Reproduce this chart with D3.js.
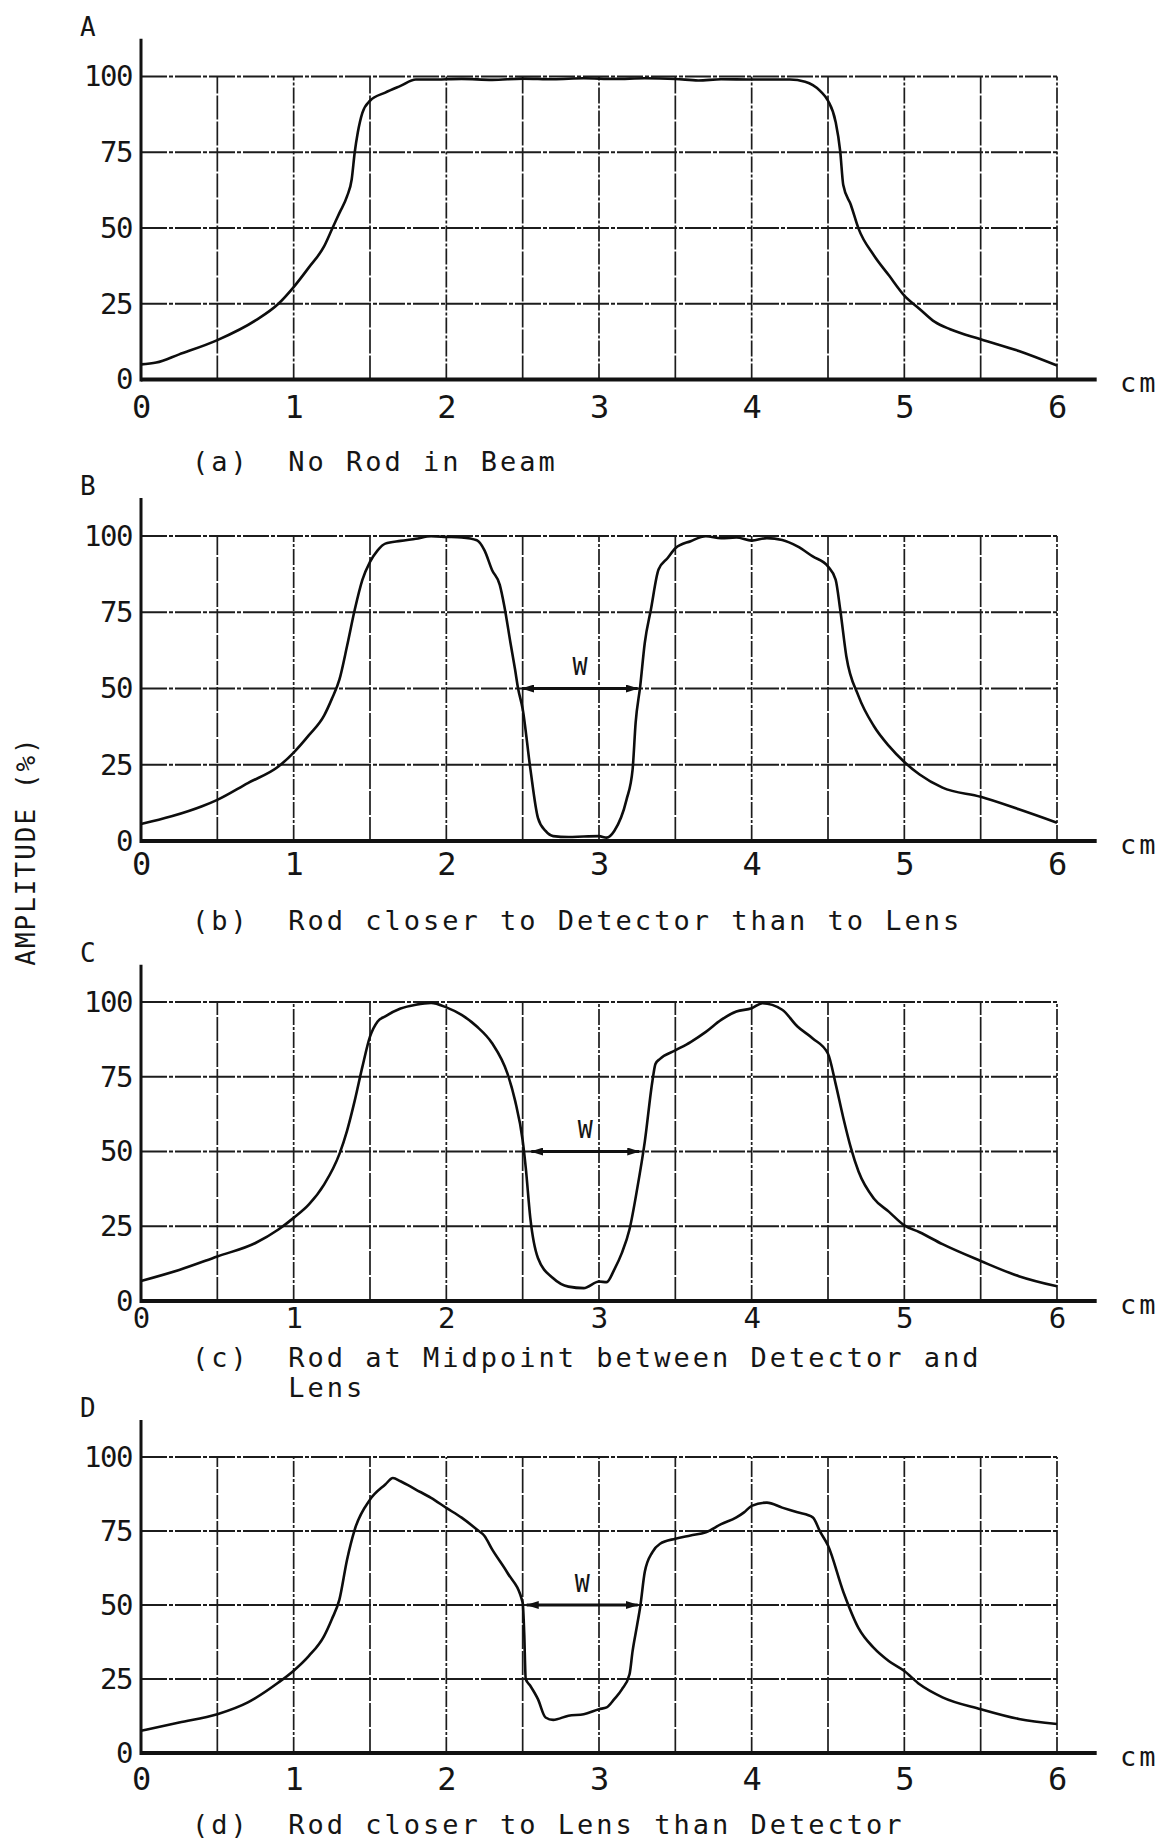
<!DOCTYPE html>
<html>
<head>
<meta charset="utf-8">
<script src="https://cdn.jsdelivr.net/npm/d3@7"></script>
<style>
  body { margin: 0; background: #fff; }
  text { font-family: "DejaVu Sans Mono", monospace; fill: #151515; }
</style>
</head>
<body>
<svg id="chart" width="1162" height="1843"></svg>
<script>
// tick values
const xTicks = [0, 1, 2, 3, 4, 5, 6];
const yTicks = [0, 25, 50, 75, 100];
const gridCm = [0.5, 1, 1.5, 2, 2.5, 3, 3.5, 4, 4.5, 5, 5.5, 6];

const panelLetters = ["A", "B", "C", "D"];
const captions = [
  ["(a)  No Rod in Beam"],
  ["(b)  Rod closer to Detector than to Lens"],
  ["(c)  Rod at Midpoint between Detector and", "     Lens"],
  ["(d)  Rod closer to Lens than Detector"]
];

// amplitude (%) against position (cm)
const noRod = [[0,5],[0.1,5.6],[0.25,8.3],[0.5,13],[0.75,19.5],[0.9,25],[1.0,30.5],[1.1,37],
  [1.2,44],[1.25,49.5],[1.3,55],[1.35,60.5],[1.38,66],[1.4,75],[1.42,81.5],[1.45,88],[1.5,92],
  [1.6,94.7],[1.7,96.9],[1.8,99],[1.9,99],[2.1,99.2],[2.3,98.9],[2.5,99.3],[2.7,99.1],[2.9,99.4],
  [3.1,99.2],[3.3,99.4],[3.5,99.2],[3.65,98.7],[3.8,99.1],[4.0,99],[4.25,99],[4.35,98.3],
  [4.45,95.2],[4.5,92],[4.55,85],[4.58,75.3],[4.6,64.2],[4.65,57.6],[4.7,49.8],[4.8,41],
  [4.9,34.3],[5.0,27.7],[5.1,23.3],[5.2,19],[5.3,16.6],[5.5,13.3],[5.75,9.4],[6.0,4.6]];

const rodNearDetector = [[0,5.6],[0.2,8.1],[0.4,11.4],[0.5,13.5],[0.7,19],[0.9,24.4],[1.0,29],
  [1.1,34.7],[1.2,41.2],[1.25,46.6],[1.3,53],[1.35,64],[1.4,75.8],[1.45,85.6],[1.5,91.5],
  [1.55,95.3],[1.6,97.5],[1.7,98.4],[1.8,99.1],[1.9,99.9],[2.0,99.7],[2.1,99.5],[2.2,98.6],
  [2.25,95.3],[2.3,88.8],[2.35,84],[2.38,77],[2.42,65],[2.45,56.3],[2.47,50],[2.5,43.3],
  [2.55,23.8],[2.6,7.6],[2.65,3.3],[2.7,1.6],[2.8,1.3],[2.9,1.5],[3.0,1.6],[3.05,1.1],
  [3.1,3.3],[3.18,13.5],[3.22,23.4],[3.24,38.8],[3.27,50.8],[3.3,65],[3.34,75.9],[3.39,89],
  [3.45,92.8],[3.5,96],[3.6,98.3],[3.7,99.9],[3.8,99.3],[3.9,99.5],[4.0,98.5],[4.1,99.3],
  [4.2,98.7],[4.3,96.6],[4.4,93.3],[4.5,90],[4.55,85.7],[4.58,75.9],[4.62,60.6],[4.7,47.5],
  [4.8,37.7],[4.9,31.1],[5.0,25.9],[5.1,21.8],[5.25,17.5],[5.5,14.5],[5.75,10.4],[6.0,6]];

const rodMidpoint = [[0,6.7],[0.25,10.4],[0.5,14.9],[0.75,19.4],[0.9,23.9],[1.0,27.8],[1.1,32.3],
  [1.2,39],[1.3,49.2],[1.35,57],[1.4,67],[1.45,78.3],[1.5,88.4],[1.55,93.5],[1.6,95.2],
  [1.7,97.8],[1.8,99.1],[1.9,99.7],[2.0,98.2],[2.1,95.7],[2.2,91.8],[2.3,86.2],[2.4,76.1],
  [2.45,67.1],[2.5,53.7],[2.52,44.7],[2.55,27.8],[2.6,14.4],[2.7,7.6],[2.8,4.8],[2.9,4.3],
  [3.0,6.5],[3.05,6.3],[3.1,10.5],[3.15,16.1],[3.2,24],[3.25,37.5],[3.3,53.3],[3.35,73.6],
  [3.37,79.3],[3.4,81],[3.5,83.8],[3.6,86.6],[3.7,90],[3.8,94],[3.9,96.8],[4.0,97.9],
  [4.07,99.6],[4.2,97.4],[4.3,91.8],[4.4,87.8],[4.5,82.7],[4.55,72.6],[4.6,61.3],[4.65,51.2],
  [4.7,43.3],[4.8,34.3],[4.9,29.8],[5.0,25.3],[5.1,23],[5.25,19],[5.5,13.4],[5.75,8.3],[6.0,4.9]];

const rodNearLens = [[0,7.5],[0.25,10.3],[0.5,13.1],[0.7,17.1],[0.9,23.8],[1.0,27.8],[1.1,32.8],
  [1.2,39.6],[1.25,45.2],[1.3,51.9],[1.35,65.4],[1.4,75.5],[1.5,85.6],[1.6,90.7],[1.65,92.9],
  [1.7,91.8],[1.8,89],[1.9,86.2],[2.0,82.8],[2.1,79.5],[2.2,75.5],[2.25,73.3],[2.3,68.8],
  [2.4,60.9],[2.5,50.8],[2.51,40.7],[2.52,25],[2.55,22.7],[2.6,18.2],[2.65,12],[2.7,11.2],
  [2.8,12.6],[2.9,13.1],[3.0,14.8],[3.05,15.4],[3.1,18.2],[3.15,21.5],[3.2,26.6],[3.22,34.4],
  [3.25,43.3],[3.27,49.4],[3.3,61.2],[3.35,67.9],[3.4,70.7],[3.5,72.4],[3.6,73.5],[3.7,74.6],
  [3.8,77.3],[3.9,79.6],[3.95,81.3],[4.0,83.5],[4.1,84.6],[4.2,82.9],[4.3,81.3],[4.4,79.6],
  [4.45,74.6],[4.5,70.1],[4.6,54.5],[4.7,42.2],[4.8,35.5],[4.9,31],[5.0,27.7],[5.1,23.2],
  [5.25,18.8],[5.5,14.8],[5.75,11.5],[6.0,9.8]];

const curves = [noRod, rodNearDetector, rodMidpoint, rodNearLens];

// half-width markers "W" (cm span at 50 %)
const wSpans = [null, [2.49, 3.26], [2.55, 3.27], [2.52, 3.26]];

// layout: pixel rows of the 100 % and 0 % lines for each panel
const panelRows = [
  {top: 76.5, bottom: 379.5, caption: 461, tickPad: 16},
  {top: 536, bottom: 841, caption: 920, tickPad: 11},
  {top: 1002, bottom: 1301, caption: 1357, tickPad: 6},
  {top: 1457, bottom: 1753, caption: 1824, tickPad: 14}
];

const svg = d3.select("#chart");
const x = d3.scaleLinear().domain([0, 6]).range([141, 1057]);

const defs = svg.append("defs");
defs.append("marker")
  .attr("id", "head")
  .attr("viewBox", "0 0 13 8")
  .attr("refX", 12).attr("refY", 4)
  .attr("markerWidth", 13).attr("markerHeight", 8)
  .attr("markerUnits", "userSpaceOnUse")
  .attr("orient", "auto-start-reverse")
  .append("path")
  .attr("d", "M0,0 L13,4 L0,8 Z")
  .attr("fill", "#111");

panelRows.forEach((p, i) => {
  const y = d3.scaleLinear().domain([0, 100]).range([p.bottom, p.top]);
  const g = svg.append("g").attr("class", `panel ${panelLetters[i]}`);

  // grid paper
  g.selectAll("line.vgrid").data(gridCm).join("line")
    .attr("class", "vgrid")
    .attr("x1", d => x(d)).attr("x2", d => x(d))
    .attr("y1", y(0)).attr("y2", y(100))
    .attr("stroke", "#1c1c1c").attr("stroke-width", 1.7)
    .attr("stroke-dasharray", (d) => Number.isInteger(d) ? "16,2,3,2" : "24,2");

  g.selectAll("line.hgrid").data(yTicks.slice(1)).join("line")
    .attr("class", "hgrid")
    .attr("x1", x(0)).attr("x2", x(6))
    .attr("y1", d => y(d)).attr("y2", d => y(d))
    .attr("stroke", "#1c1c1c").attr("stroke-width", 1.8)
    .attr("stroke-dasharray", "26,2,4,2");

  // axes
  g.append("line")
    .attr("x1", x(0)).attr("x2", x(6.26))
    .attr("y1", y(0)).attr("y2", y(0))
    .attr("stroke", "#111").attr("stroke-width", 4);
  g.append("line")
    .attr("x1", x(0)).attr("x2", x(0))
    .attr("y1", y(0) + 2).attr("y2", y(112.5))
    .attr("stroke", "#111").attr("stroke-width", 3);

  // tick labels
  g.append("g")
    .attr("transform", `translate(${x(0)},0)`)
    .call(d3.axisLeft(y).tickValues(yTicks).tickSize(0).tickPadding(9))
    .call(a => a.select(".domain").remove())
    .attr("font-family", "DejaVu Sans Mono")
    .attr("font-size", 29)
    .attr("letter-spacing", -1.5);

  g.append("g")
    .attr("transform", `translate(0,${y(0)})`)
    .call(d3.axisBottom(x).tickValues(xTicks).tickFormat(d3.format("d")).tickSize(0).tickPadding(p.tickPad))
    .call(a => a.select(".domain").remove())
    .attr("font-family", "DejaVu Sans Mono")
    .attr("font-size", i === 2 ? 29 : 32);

  g.append("text")
    .attr("x", 1120).attr("y", y(0) + 3)
    .attr("dominant-baseline", "central")
    .attr("font-size", 27).attr("letter-spacing", 3)
    .text("cm");

  g.append("text")
    .attr("x", 80).attr("y", y(112.5) - 12)
    .attr("dominant-baseline", "central")
    .attr("font-size", 26)
    .text(panelLetters[i]);

  // the trace
  const line = d3.line()
    .x(d => x(d[0]))
    .y(d => y(d[1]))
    .curve(d3.curveMonotoneX);
  g.append("path")
    .datum(curves[i])
    .attr("d", line)
    .attr("fill", "none")
    .attr("stroke", "#0d0d0d")
    .attr("stroke-width", 2.6)
    .attr("stroke-linejoin", "round");

  // W arrow
  const w = wSpans[i];
  if (w) {
    g.append("line")
      .attr("x1", x(w[0]) + 1).attr("x2", x(w[1]) - 1)
      .attr("y1", y(50)).attr("y2", y(50))
      .attr("stroke", "#111").attr("stroke-width", 3.2)
      .attr("marker-start", "url(#head)")
      .attr("marker-end", "url(#head)");
    g.append("text")
      .attr("x", x((w[0] + w[1]) / 2)).attr("y", y(50) - 22)
      .attr("text-anchor", "middle")
      .attr("dominant-baseline", "central")
      .attr("font-size", 25)
      .text("W");
  }

  // caption
  g.selectAll("text.caption").data(captions[i]).join("text")
    .attr("class", "caption")
    .attr("x", 192)
    .attr("y", (d, k) => p.caption + k * 30)
    .attr("dominant-baseline", "central")
    .attr("font-size", 27)
    .attr("letter-spacing", 3)
    .style("white-space", "pre")
    .text(d => d);
});

svg.append("text")
  .attr("transform", "translate(26,851) rotate(-90)")
  .attr("text-anchor", "middle")
  .attr("dominant-baseline", "central")
  .attr("font-size", 26)
  .attr("letter-spacing", 2)
  .style("white-space", "pre")
  .text("AMPLITUDE (%)");
</script>
</body>
</html>
